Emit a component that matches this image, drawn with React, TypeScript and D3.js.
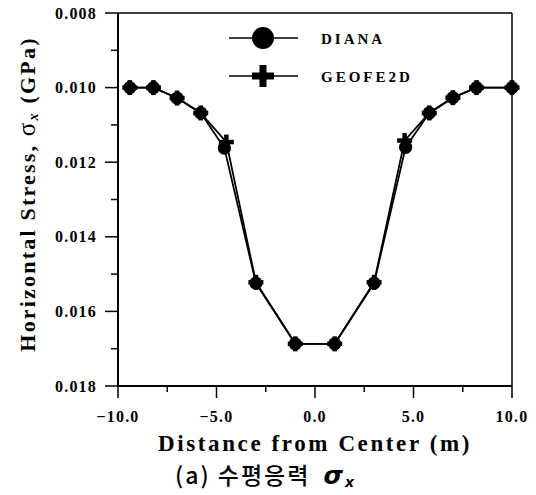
import React from "react";
import * as d3 from "d3";

const dianaX = [-9.4, -8.2, -7.0, -5.8, -4.6, -3.0, -1.0, 1.0, 3.0, 4.6, 5.8, 7.0, 8.2, 10.0];
const dianaY = [0.0100, 0.0100, 0.01028, 0.01068, 0.01162, 0.01524, 0.01687, 0.01687, 0.01524, 0.0116, 0.01068, 0.01027, 0.0100, 0.0100];
const geoX = [-9.4, -8.2, -7.0, -5.8, -4.5, -3.0, -1.0, 1.0, 3.0, 4.55, 5.8, 7.0, 8.2, 10.0];
const geoY = [0.0100, 0.0100, 0.01028, 0.01068, 0.01146, 0.01522, 0.01687, 0.01687, 0.01522, 0.01142, 0.01068, 0.01027, 0.0100, 0.0100];
const xMajor = [-10, -5, 0, 5, 10];
const xMinor = [-7.5, -2.5, 2.5, 7.5];
const yMajor = [0.008, 0.010, 0.012, 0.014, 0.016, 0.018];
const yMinor = [0.009, 0.011, 0.013, 0.015, 0.017];
const seriesNames = ["DIANA", "GEOFE2D"];

const W = 536, H = 495;
const L = 118, R = 512, T = 13, B = 386;
const serif = "'Liberation Serif', 'Times New Roman', serif";

export default function App() {
  const x = d3.scaleLinear().domain([-10, 10]).range([L, R]);
  const y = d3.scaleLinear().domain([0.008, 0.018]).range([T, B]);
  const line = d3.line<[number, number]>().x(d => x(d[0])).y(d => y(d[1]));
  const dPts: [number, number][] = dianaX.map((v, i) => [v, dianaY[i]]);
  const gPts: [number, number][] = geoX.map((v, i) => [v, geoY[i]]);

  const cross = (cx: number, cy: number, s: number, t: number, key: string) => (
    <g key={key}>
      <rect x={cx - s / 2} y={cy - t / 2} width={s} height={t} fill="#000" />
      <rect x={cx - t / 2} y={cy - s / 2} width={t} height={s} fill="#000" />
    </g>
  );

  return (
    <div style={{ position: "absolute", left: 0, top: 0 }}>
      <svg width={W} height={H} style={{ display: "block" }}>
        <rect width={W} height={H} fill="#fff" />
        {/* frame */}
        <line x1={L} x2={R} y1={T} y2={T} stroke="#000" strokeWidth={1.5} />
        <line x1={R} x2={R} y1={T} y2={B} stroke="#000" strokeWidth={1.5} />
        <line x1={L} x2={L} y1={T} y2={B} stroke="#000" strokeWidth={2} />
        <line x1={L} x2={R} y1={B} y2={B} stroke="#000" strokeWidth={2} />
        {/* y ticks */}
        {yMajor.map(v => (
          <g key={"ym" + v}>
            <line x1={L - 13} x2={L} y1={y(v)} y2={y(v)} stroke="#000" strokeWidth={1.5} />
            <text x={L - 21} y={y(v)} dy="0.35em" textAnchor="end" fontFamily={serif} fontWeight="bold" fontSize={16} letterSpacing={1.2}>
              {d3.format(".3f")(v)}
            </text>
          </g>
        ))}
        {yMinor.map(v => (
          <line key={"yn" + v} x1={L - 7} x2={L} y1={y(v)} y2={y(v)} stroke="#000" strokeWidth={1.5} />
        ))}
        {/* x ticks */}
        {xMajor.map(v => (
          <g key={"xm" + v}>
            <line x1={x(v)} x2={x(v)} y1={B} y2={B + 12} stroke="#000" strokeWidth={1.5} />
            <text x={x(v)} y={B + 36} textAnchor="middle" fontFamily={serif} fontWeight="bold" fontSize={16} letterSpacing={1.2}>
              {d3.format(".1f")(v)}
            </text>
          </g>
        ))}
        {xMinor.map(v => (
          <line key={"xn" + v} x1={x(v)} x2={x(v)} y1={B} y2={B + 6} stroke="#000" strokeWidth={1.5} />
        ))}
        {/* series */}
        <path d={line(gPts) || ""} fill="none" stroke="#000" strokeWidth={1.8} />
        <path d={line(dPts) || ""} fill="none" stroke="#000" strokeWidth={1.8} />
        {gPts.map((p, i) => cross(x(p[0]), y(p[1]), 15, 4.5, "gc" + i))}
        {dPts.map((p, i) => (
          <circle key={"dc" + i} cx={x(p[0])} cy={y(p[1])} r={6.6} fill="#000" />
        ))}
        {/* legend */}
        <line x1={229} x2={298} y1={38} y2={38} stroke="#000" strokeWidth={1.5} />
        <circle cx={263} cy={38} r={11} fill="#000" />
        <text x={321} y={44} fontFamily={serif} fontWeight="bold" fontSize={15} letterSpacing={3}>{seriesNames[0]}</text>
        <line x1={229} x2={298} y1={76} y2={76} stroke="#000" strokeWidth={1.5} />
        {cross(263, 76, 22, 7, "lg")}
        <text x={321} y={82} fontFamily={serif} fontWeight="bold" fontSize={15} letterSpacing={3}>{seriesNames[1]}</text>
        {/* axis titles */}
        <text transform={`translate(35,194) rotate(-90)`} textAnchor="middle" fontFamily={serif} fontWeight="bold" fontSize={22} letterSpacing={2.2}>
          Horizontal Stress, <tspan fontSize={25} fontWeight="normal">σ</tspan><tspan fontSize={14} dy={3} fontStyle="italic">x</tspan><tspan dy={-3}> (GPa)</tspan>
        </text>
        <text x={(L + R) / 2} y={451} textAnchor="middle" fontFamily={serif} fontWeight="bold" fontSize={23} letterSpacing={2.6}>
          Distance from Center (m)
        </text>
        <text x={175} y={484} fontFamily="'Noto Sans CJK KR', 'Noto Sans', sans-serif" fontSize={23} fontWeight={500} letterSpacing={2}>
          (a) 수평응력 <tspan fontWeight="bold" fontStyle="italic" fontFamily="'DejaVu Sans', sans-serif" fontSize={25} dx={6}>σ</tspan><tspan fontWeight="bold" fontStyle="italic" fontFamily="'DejaVu Sans', sans-serif" fontSize={14} dy={3}>x</tspan>
        </text>
      </svg>
    </div>
  );
}
